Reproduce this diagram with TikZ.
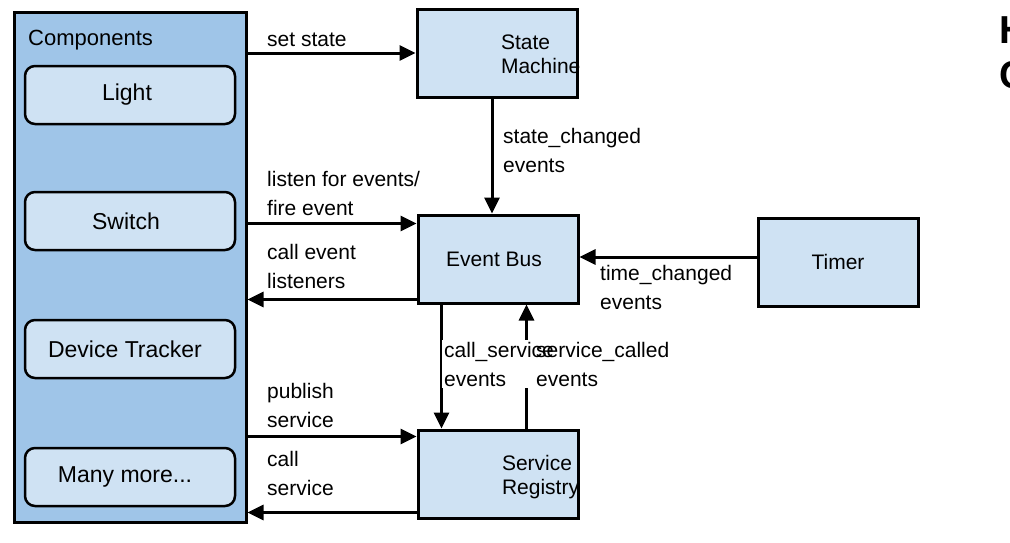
\documentclass[tikz,border=0pt]{standalone}
\usepackage{fontspec}
\setmainfont{Liberation Sans}
\usetikzlibrary{arrows.meta}
\definecolor{compblue}{HTML}{9FC5E8}
\definecolor{boxblue}{HTML}{CFE2F3}
\begin{document}
\begin{tikzpicture}[x=1pt,y=-1pt,
  box/.style={draw,line width=3pt,fill=boxblue,minimum width=160pt,minimum height=88pt,inner sep=0pt,font=\fontsize{21}{24}\selectfont},
  comp/.style={draw,line width=2.5pt,fill=boxblue,rounded corners=10pt,minimum width=210pt,minimum height=58pt,font=\fontsize{23}{26}\selectfont},
  arr/.style={line width=3pt,-{Triangle[length=16pt,width=15pt]}},
  lbl/.style={anchor=base west,align=left,inner sep=0pt,font=\fontsize{21}{29}\selectfont}]
\useasboundingbox (0,0) rectangle (1010,542);
\clip (0,0) rectangle (1010,542);
\node[draw,line width=3pt,fill=compblue,minimum width=232pt,minimum height=510pt](comps) at (130,267){};
\node[lbl,font=\fontsize{22}{26}\selectfont](compstitle) at (28,45){Components};
\node[comp](light) at (130,95){Light\hspace*{6pt}};
\node[comp](switch) at (130,221){Switch\hspace*{8pt}};
\node[comp](tracker) at (130,349){Device Tracker\hspace*{10pt}};
\node[comp](more) at (130,477){Many more...\hspace*{10pt}};
\node[box,label={[anchor=west,xshift=82pt,yshift=-1pt,align=left,font=\fontsize{21}{24}\selectfont]west:State\\Machine}](sm) at (497,53){};
\node[box](eb) at (498,259){Event Bus\hspace*{8pt}};
\node[box](tm) at (838,262){Timer};
\node[box,label={[anchor=west,xshift=82pt,yshift=-3pt,align=left,font=\fontsize{21}{24}\selectfont]west:Service\\Registry}](sr) at (498,474){};
\coordinate (smout) at ([xshift=-5pt]sm.south);
\coordinate (ebin) at ([yshift=-10pt]eb.north west);
\coordinate (ebout) at ([yshift=5pt]eb.south west);
\coordinate (tmout) at ([yshift=5pt]tm.west);
\coordinate (csx) at ([xshift=25pt]eb.south west);
\coordinate (scx) at ([xshift=110pt]sr.north west);
\coordinate (srin) at ([yshift=-8pt]sr.north west);
\coordinate (srout) at ([yshift=7pt]sr.south west);
\draw[arr] (sm.west -| comps.east) -- (sm.west);
\draw[arr] (smout) -- (smout |- eb.north);
\draw[arr] (ebin -| comps.east) -- (ebin);
\draw[arr] (ebout) -- (ebout -| comps.east);
\draw[arr] (tmout) -- (tmout -| eb.east);
\draw[arr] (csx) -- (csx |- sr.north);
\draw[arr] (scx) -- (scx |- eb.south);
\draw[arr] (srin -| comps.east) -- (srin);
\draw[arr] (srout) -- (srout -| comps.east);
\node[lbl](setl) at (267,46){set state};
\node[lbl](statel) at (503,172){state\_changed\\events};
\node[lbl](listenl) at (267,215){listen for events/\\fire event};
\node[lbl](calll) at (267,288){call event\\listeners};
\node[lbl](timel) at (600,309){time\_changed\\events};
\node[lbl,fill=white,inner sep=2pt](csl) at (442,386){call\_service\\events};
\node[lbl](scl) at (536,386){service\_called\\events};
\node[lbl](publ) at (267,427){publish\\service};
\node[lbl](callsl) at (267,495){call\\service};
\node[lbl,font=\bfseries\fontsize{39}{45}\selectfont](title) at (999,88){H\\C};
\end{tikzpicture}
\end{document}
